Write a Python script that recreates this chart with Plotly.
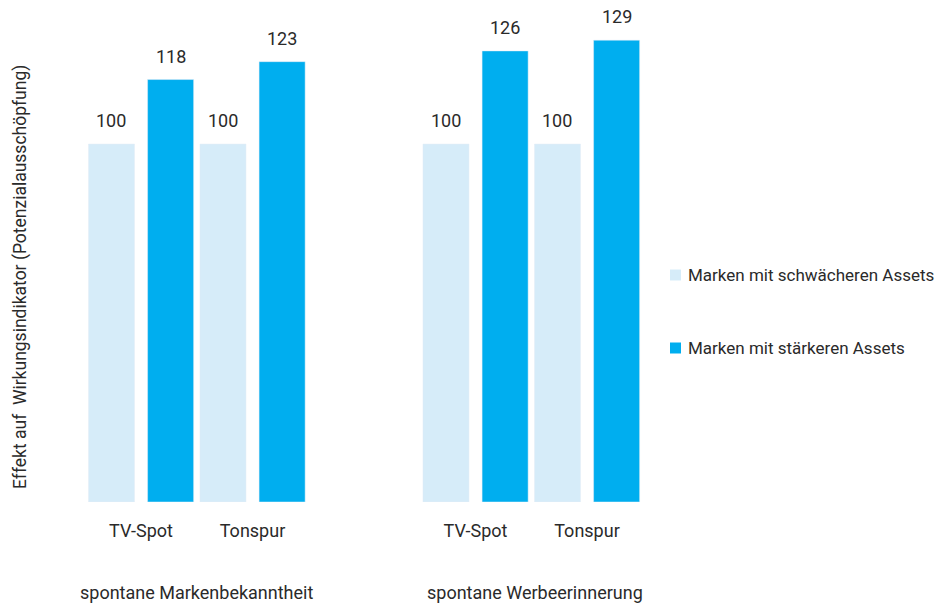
import plotly.graph_objects as go

# Chart data
groups = ["spontane Markenbekanntheit", "spontane Werbeerinnerung"]
media = ["TV-Spot", "Tonspur", "TV-Spot", "Tonspur"]
positions = [0, 1, 3, 4]  # slot 2 stays empty to separate the two groups
weaker = [100, 100, 100, 100]
stronger = [118, 123, 126, 129]
series_names = ["Marken mit schwächeren Assets", "Marken mit stärkeren Assets"]
y_title = "Effekt auf  Wirkungsindikator (Potenzialausschöpfung)"

FONT = "Roboto, Arial, sans-serif"
TEXT = "#2a2a2a"
LIGHT = "#d6ecf9"
DARK = "#00aeef"
BAR_W = 0.413
COLORS = [LIGHT, DARK]

# plot area geometry (pixels)
W, H = 947, 606
ML, MR, MT, MB = 60, 10, 10, 104
PW, PH = W - ML - MR, H - MT - MB
UNIT = 111.5  # pixels per category slot
X0 = -(141 - ML) / UNIT
X1 = X0 + PW / UNIT


def px_x(p):
    return (p - ML) / PW


def px_y(p):
    return (H - MB - p) / PH


fig = go.Figure()
fig.add_trace(go.Bar(
    x=positions, y=weaker, name=series_names[0], marker_color=LIGHT,
    width=BAR_W, offset=-0.471, showlegend=False,
))
fig.add_trace(go.Bar(
    x=positions, y=stronger, name=series_names[1], marker_color=DARK,
    width=BAR_W, offset=0.059, showlegend=False,
))

# value labels above each bar
for series, off in ((weaker, -0.265), (stronger, 0.265)):
    for px, v in zip(positions, series):
        fig.add_annotation(
            x=px + off, y=v, text=str(v), showarrow=False,
            yanchor="bottom", yshift=11,
            font=dict(family=FONT, size=18, color=TEXT),
        )

# group captions under the category labels
for cx, g in zip([0.5, 3.53], groups):
    fig.add_annotation(
        x=cx, y=px_y(592), yref="paper", text=g, showarrow=False,
        yanchor="middle", font=dict(family=FONT, size=18, color=TEXT),
    )

# y-axis caption
fig.add_annotation(
    x=px_x(20), y=px_y(277), xref="paper", yref="paper", text=y_title,
    textangle=-90, showarrow=False, xanchor="center", yanchor="middle",
    font=dict(family=FONT, size=17.5, color=TEXT),
)

# legend: colour squares with their labels
for i, (name, col) in enumerate(zip(series_names, COLORS)):
    cy = 275 + i * 73
    fig.add_shape(
        type="rect", xref="paper", yref="paper",
        x0=px_x(670), x1=px_x(681), y0=px_y(cy + 5.5), y1=px_y(cy - 5.5),
        fillcolor=col, line_width=0,
    )
    fig.add_annotation(
        x=px_x(686), y=px_y(cy), xref="paper", yref="paper", text=name,
        showarrow=False, xanchor="left", yanchor="middle",
        font=dict(family=FONT, size=17, color=TEXT),
    )

fig.update_layout(
    width=W, height=H,
    margin=dict(l=ML, r=MR, t=MT, b=MB),
    paper_bgcolor="white", plot_bgcolor="white",
    barmode="overlay", showlegend=False,
    font=dict(family=FONT, size=18, color=TEXT),
    xaxis=dict(
        range=[X0, X1], tickvals=positions, ticktext=media,
        showgrid=False, zeroline=False, showline=False,
        ticks="", ticklabelstandoff=16,
        tickfont=dict(family=FONT, size=18, color=TEXT),
    ),
    yaxis=dict(
        range=[0, PH / 3.58], showgrid=False, zeroline=False,
        showline=False, showticklabels=False, ticks="",
    ),
)

fig.write_html("out.html")
